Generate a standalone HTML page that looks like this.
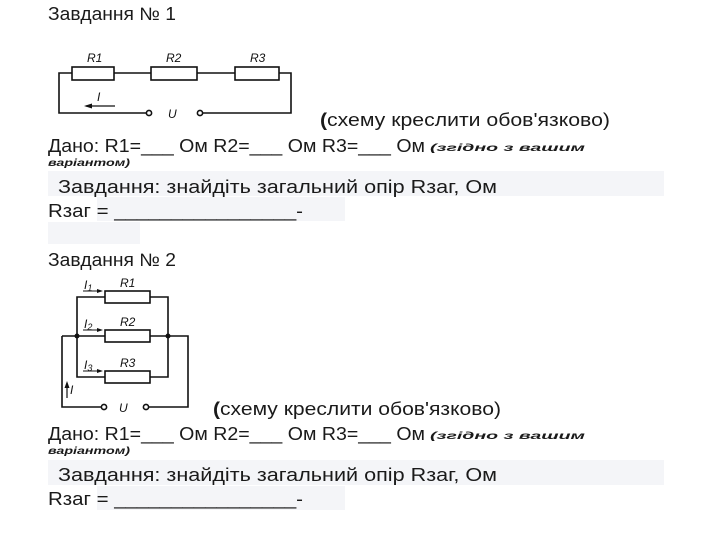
<!DOCTYPE html>
<html><head><meta charset="utf-8"><style>
html,body{margin:0;padding:0;background:#fff;width:710px;height:537px;overflow:hidden}
svg{display:block}
text{font-family:"Liberation Sans",Arial,sans-serif;fill:#1a1a1a}
.t{font-size:18px}
.i{font-size:10px;font-style:italic;font-weight:bold}
.c{font-family:"Liberation Sans",sans-serif;font-style:italic;font-size:12px;fill:#111}
</style></head><body>
<svg width="710" height="537" viewBox="0 0 710 537" xmlns="http://www.w3.org/2000/svg">
<g fill="#f4f5f8">
<rect x="48" y="171" width="616" height="25"/>
<rect x="97" y="197" width="248" height="24"/>
<rect x="48" y="222" width="92" height="22"/>
<rect x="48" y="460" width="616" height="25"/>
<rect x="97" y="486" width="248" height="24"/>
</g>
<text class="t" x="48" y="20" textLength="128" lengthAdjust="spacingAndGlyphs">Завдання № 1</text>

<g stroke="#111" stroke-width="1.6" fill="none">
<polyline points="72,73 59,73 59,113 146,113"/>
<line x1="114" y1="73" x2="151" y2="73"/>
<line x1="197" y1="73" x2="235" y2="73"/>
<polyline points="279,73 291,73 291,113 203,113"/>
<rect x="72" y="67" width="42" height="13"/>
<rect x="151" y="67" width="46" height="13"/>
<rect x="235" y="67" width="44" height="13"/>
<circle cx="149" cy="113" r="2.6"/>
<circle cx="200" cy="113" r="2.6"/>
<line x1="86" y1="106" x2="115" y2="106" stroke-width="1.2"/>
</g>
<path d="M84,106 L92,103.5 L92,108.5 Z" fill="#111"/>
<text class="c" x="87" y="62">R1</text>
<text class="c" x="166" y="62">R2</text>
<text class="c" x="250" y="62">R3</text>
<text class="c" x="97" y="101">I</text>
<text class="c" x="168" y="118">U</text>

<text class="t" x="320" y="126" textLength="290" lengthAdjust="spacingAndGlyphs"><tspan font-weight="bold">(</tspan>схему креслити обов'язково)</text>
<text class="t" x="48" y="152" textLength="377" lengthAdjust="spacingAndGlyphs">Дано: R1=___ Ом R2=___ Ом  R3=___ Ом</text>
<text class="i" x="430" y="151" textLength="155" lengthAdjust="spacingAndGlyphs">(згідно з вашим</text>
<text class="i" x="48" y="166" textLength="82" lengthAdjust="spacingAndGlyphs">варіантом)</text>
<text class="t" x="58" y="193" textLength="439" lengthAdjust="spacingAndGlyphs">Завдання: знайдіть загальний опір  Rзаг, Ом</text>
<text class="t" x="48" y="217" textLength="255" lengthAdjust="spacingAndGlyphs">Rзаг =  ________________-</text>

<text class="t" x="48" y="266" textLength="128" lengthAdjust="spacingAndGlyphs">Завдання № 2</text>

<g stroke="#111" stroke-width="1.6" fill="none">
<polyline points="105,297 77,297 77,377 105,377"/>
<polyline points="150,297 168,297 168,377 150,377"/>
<line x1="62" y1="336" x2="105" y2="336"/>
<polyline points="150,336 188,336 188,407 149,407"/>
<polyline points="62,336 62,407 102,407"/>
<rect x="105" y="291" width="45" height="12"/>
<rect x="105" y="330" width="45" height="12"/>
<rect x="105" y="371" width="45" height="12"/>
<circle cx="104" cy="407" r="2.6"/>
<circle cx="146" cy="407" r="2.6"/>
<line x1="67" y1="398" x2="67" y2="384" stroke-width="1.2"/>
<line x1="83" y1="291" x2="100" y2="291" stroke-width="1"/>
<line x1="83" y1="330" x2="100" y2="330" stroke-width="1"/>
<line x1="83" y1="371" x2="100" y2="371" stroke-width="1"/>
</g>
<circle cx="77" cy="336" r="2.5" fill="#111"/>
<circle cx="168" cy="336" r="2.5" fill="#111"/>
<path d="M67,381 L64.5,388 L69.5,388 Z" fill="#111"/>
<path d="M103,291 L97,289 L97,293 Z M103,330 L97,328 L97,332 Z M103,371 L97,369 L97,373 Z" fill="#111"/>
<text class="c" x="120" y="287">R1</text>
<text class="c" x="120" y="326">R2</text>
<text class="c" x="120" y="367">R3</text>
<text class="c" x="84" y="289">I<tspan font-size="9" dy="2">1</tspan></text>
<text class="c" x="84" y="328">I<tspan font-size="9" dy="2">2</tspan></text>
<text class="c" x="84" y="369">I<tspan font-size="9" dy="2">3</tspan></text>
<text class="c" x="70" y="394">I</text>
<text class="c" x="119" y="412">U</text>

<text class="t" x="213" y="415" textLength="288" lengthAdjust="spacingAndGlyphs"><tspan font-weight="bold">(</tspan>схему креслити обов'язково)</text>
<text class="t" x="48" y="440" textLength="377" lengthAdjust="spacingAndGlyphs">Дано: R1=___ Ом R2=___ Ом  R3=___ Ом</text>
<text class="i" x="430" y="439" textLength="155" lengthAdjust="spacingAndGlyphs">(згідно з вашим</text>
<text class="i" x="48" y="454" textLength="82" lengthAdjust="spacingAndGlyphs">варіантом)</text>
<text class="t" x="58" y="481" textLength="439" lengthAdjust="spacingAndGlyphs">Завдання: знайдіть загальний опір  Rзаг, Ом</text>
<text class="t" x="48" y="505" textLength="255" lengthAdjust="spacingAndGlyphs">Rзаг =  ________________-</text>
</svg>
</body></html>
